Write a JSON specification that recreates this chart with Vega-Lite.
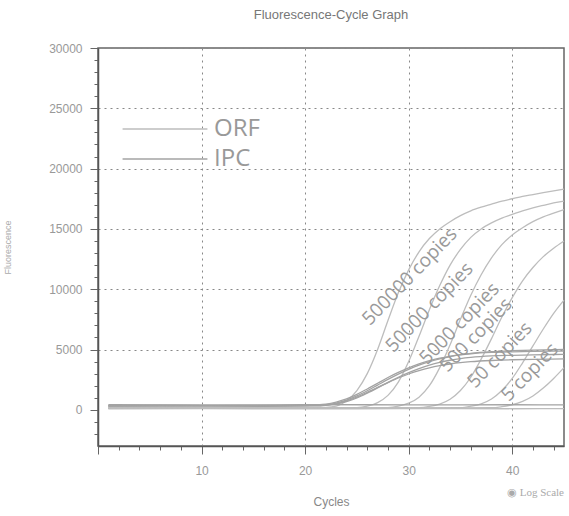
{
"$schema": "https://vega.github.io/schema/vega-lite/v6.json",
"width": 466, "height": 398,
"autosize": {"type": "none"},
"padding": {"left": 98, "top": 48, "right": 5, "bottom": 70},
"title": {"text": "Fluorescence-Cycle Graph", "fontSize": 13, "fontWeight": "normal", "color": "#777", "font": "Liberation Sans", "offset": 20},
"datasets": {
"curves": [
{"s":"ORF","c":"500000","x":1,"y":150},{"s":"ORF","c":"500000","x":6,"y":170},{"s":"ORF","c":"500000","x":12,"y":140},{"s":"ORF","c":"500000","x":18,"y":160},{"s":"ORF","c":"500000","x":22,"y":200},{"s":"ORF","c":"500000","x":23,"y":300},{"s":"ORF","c":"500000","x":24,"y":750},{"s":"ORF","c":"500000","x":25,"y":1600},{"s":"ORF","c":"500000","x":26,"y":3000},{"s":"ORF","c":"500000","x":27,"y":5000},{"s":"ORF","c":"500000","x":28,"y":7400},{"s":"ORF","c":"500000","x":29,"y":9700},{"s":"ORF","c":"500000","x":30,"y":11600},{"s":"ORF","c":"500000","x":31,"y":13100},{"s":"ORF","c":"500000","x":32,"y":14200},{"s":"ORF","c":"500000","x":33,"y":15000},{"s":"ORF","c":"500000","x":34,"y":15600},{"s":"ORF","c":"500000","x":35,"y":16100},{"s":"ORF","c":"500000","x":36,"y":16500},{"s":"ORF","c":"500000","x":37,"y":16800},{"s":"ORF","c":"500000","x":38,"y":17050},{"s":"ORF","c":"500000","x":39,"y":17300},{"s":"ORF","c":"500000","x":40,"y":17500},{"s":"ORF","c":"500000","x":41,"y":17700},{"s":"ORF","c":"500000","x":42,"y":17850},{"s":"ORF","c":"500000","x":43,"y":18000},{"s":"ORF","c":"500000","x":44,"y":18150},{"s":"ORF","c":"500000","x":45,"y":18300},
{"s":"ORF","c":"50000","x":1,"y":120},{"s":"ORF","c":"50000","x":7,"y":150},{"s":"ORF","c":"50000","x":13,"y":130},{"s":"ORF","c":"50000","x":19,"y":150},{"s":"ORF","c":"50000","x":25,"y":180},{"s":"ORF","c":"50000","x":26,"y":300},{"s":"ORF","c":"50000","x":27,"y":600},{"s":"ORF","c":"50000","x":28,"y":1200},{"s":"ORF","c":"50000","x":29,"y":2300},{"s":"ORF","c":"50000","x":30,"y":4000},{"s":"ORF","c":"50000","x":31,"y":6100},{"s":"ORF","c":"50000","x":32,"y":8300},{"s":"ORF","c":"50000","x":33,"y":10300},{"s":"ORF","c":"50000","x":34,"y":12000},{"s":"ORF","c":"50000","x":35,"y":13300},{"s":"ORF","c":"50000","x":36,"y":14300},{"s":"ORF","c":"50000","x":37,"y":15000},{"s":"ORF","c":"50000","x":38,"y":15500},{"s":"ORF","c":"50000","x":39,"y":15900},{"s":"ORF","c":"50000","x":40,"y":16200},{"s":"ORF","c":"50000","x":41,"y":16500},{"s":"ORF","c":"50000","x":42,"y":16750},{"s":"ORF","c":"50000","x":43,"y":16950},{"s":"ORF","c":"50000","x":44,"y":17150},{"s":"ORF","c":"50000","x":45,"y":17300},
{"s":"ORF","c":"5000","x":1,"y":160},{"s":"ORF","c":"5000","x":8,"y":140},{"s":"ORF","c":"5000","x":15,"y":170},{"s":"ORF","c":"5000","x":22,"y":150},{"s":"ORF","c":"5000","x":28,"y":190},{"s":"ORF","c":"5000","x":29,"y":300},{"s":"ORF","c":"5000","x":30,"y":550},{"s":"ORF","c":"5000","x":31,"y":1050},{"s":"ORF","c":"5000","x":32,"y":2000},{"s":"ORF","c":"5000","x":33,"y":3500},{"s":"ORF","c":"5000","x":34,"y":5400},{"s":"ORF","c":"5000","x":35,"y":7500},{"s":"ORF","c":"5000","x":36,"y":9500},{"s":"ORF","c":"5000","x":37,"y":11200},{"s":"ORF","c":"5000","x":38,"y":12600},{"s":"ORF","c":"5000","x":39,"y":13700},{"s":"ORF","c":"5000","x":40,"y":14500},{"s":"ORF","c":"5000","x":41,"y":15100},{"s":"ORF","c":"5000","x":42,"y":15600},{"s":"ORF","c":"5000","x":43,"y":16000},{"s":"ORF","c":"5000","x":44,"y":16300},{"s":"ORF","c":"5000","x":45,"y":16600},
{"s":"ORF","c":"500","x":1,"y":140},{"s":"ORF","c":"500","x":9,"y":160},{"s":"ORF","c":"500","x":17,"y":130},{"s":"ORF","c":"500","x":25,"y":150},{"s":"ORF","c":"500","x":31,"y":180},{"s":"ORF","c":"500","x":32,"y":280},{"s":"ORF","c":"500","x":33,"y":480},{"s":"ORF","c":"500","x":34,"y":880},{"s":"ORF","c":"500","x":35,"y":1600},{"s":"ORF","c":"500","x":36,"y":2700},{"s":"ORF","c":"500","x":37,"y":4200},{"s":"ORF","c":"500","x":38,"y":5900},{"s":"ORF","c":"500","x":39,"y":7700},{"s":"ORF","c":"500","x":40,"y":9300},{"s":"ORF","c":"500","x":41,"y":10700},{"s":"ORF","c":"500","x":42,"y":11800},{"s":"ORF","c":"500","x":43,"y":12700},{"s":"ORF","c":"500","x":44,"y":13400},{"s":"ORF","c":"500","x":45,"y":14000},
{"s":"ORF","c":"50","x":1,"y":130},{"s":"ORF","c":"50","x":10,"y":150},{"s":"ORF","c":"50","x":20,"y":140},{"s":"ORF","c":"50","x":30,"y":160},{"s":"ORF","c":"50","x":35,"y":190},{"s":"ORF","c":"50","x":36,"y":300},{"s":"ORF","c":"50","x":37,"y":500},{"s":"ORF","c":"50","x":38,"y":900},{"s":"ORF","c":"50","x":39,"y":1600},{"s":"ORF","c":"50","x":40,"y":2600},{"s":"ORF","c":"50","x":41,"y":3900},{"s":"ORF","c":"50","x":42,"y":5300},{"s":"ORF","c":"50","x":43,"y":6700},{"s":"ORF","c":"50","x":44,"y":8000},{"s":"ORF","c":"50","x":45,"y":9100},
{"s":"ORF","c":"5","x":1,"y":150},{"s":"ORF","c":"5","x":10,"y":130},{"s":"ORF","c":"5","x":20,"y":160},{"s":"ORF","c":"5","x":30,"y":140},{"s":"ORF","c":"5","x":38,"y":170},{"s":"ORF","c":"5","x":39,"y":260},{"s":"ORF","c":"5","x":40,"y":420},{"s":"ORF","c":"5","x":41,"y":700},{"s":"ORF","c":"5","x":42,"y":1150},{"s":"ORF","c":"5","x":43,"y":1800},{"s":"ORF","c":"5","x":44,"y":2600},{"s":"ORF","c":"5","x":45,"y":3500},
{"s":"ORF","c":"ntc","x":1,"y":80},{"s":"ORF","c":"ntc","x":10,"y":100},{"s":"ORF","c":"ntc","x":20,"y":70},{"s":"ORF","c":"ntc","x":30,"y":110},{"s":"ORF","c":"ntc","x":40,"y":90},{"s":"ORF","c":"ntc","x":45,"y":100},
{"s":"IPC","c":"i1","x":1,"y":330},{"s":"IPC","c":"i1","x":8,"y":360},{"s":"IPC","c":"i1","x":15,"y":340},{"s":"IPC","c":"i1","x":20,"y":370},{"s":"IPC","c":"i1","x":22,"y":420},{"s":"IPC","c":"i1","x":23,"y":560},{"s":"IPC","c":"i1","x":24,"y":800},{"s":"IPC","c":"i1","x":25,"y":1150},{"s":"IPC","c":"i1","x":26,"y":1580},{"s":"IPC","c":"i1","x":27,"y":2050},{"s":"IPC","c":"i1","x":28,"y":2520},{"s":"IPC","c":"i1","x":29,"y":2960},{"s":"IPC","c":"i1","x":30,"y":3350},{"s":"IPC","c":"i1","x":31,"y":3700},{"s":"IPC","c":"i1","x":32,"y":3990},{"s":"IPC","c":"i1","x":33,"y":4230},{"s":"IPC","c":"i1","x":34,"y":4420},{"s":"IPC","c":"i1","x":35,"y":4570},{"s":"IPC","c":"i1","x":36,"y":4680},{"s":"IPC","c":"i1","x":38,"y":4820},{"s":"IPC","c":"i1","x":40,"y":4900},{"s":"IPC","c":"i1","x":42,"y":4950},{"s":"IPC","c":"i1","x":45,"y":5000},
{"s":"IPC","c":"i2","x":1,"y":300},{"s":"IPC","c":"i2","x":9,"y":320},{"s":"IPC","c":"i2","x":16,"y":290},{"s":"IPC","c":"i2","x":21,"y":330},{"s":"IPC","c":"i2","x":22,"y":380},{"s":"IPC","c":"i2","x":23,"y":480},{"s":"IPC","c":"i2","x":24,"y":680},{"s":"IPC","c":"i2","x":25,"y":980},{"s":"IPC","c":"i2","x":26,"y":1380},{"s":"IPC","c":"i2","x":27,"y":1820},{"s":"IPC","c":"i2","x":28,"y":2280},{"s":"IPC","c":"i2","x":29,"y":2700},{"s":"IPC","c":"i2","x":30,"y":3080},{"s":"IPC","c":"i2","x":31,"y":3420},{"s":"IPC","c":"i2","x":32,"y":3700},{"s":"IPC","c":"i2","x":33,"y":3930},{"s":"IPC","c":"i2","x":34,"y":4110},{"s":"IPC","c":"i2","x":35,"y":4250},{"s":"IPC","c":"i2","x":36,"y":4350},{"s":"IPC","c":"i2","x":38,"y":4470},{"s":"IPC","c":"i2","x":40,"y":4520},{"s":"IPC","c":"i2","x":42,"y":4560},{"s":"IPC","c":"i2","x":45,"y":4600},
{"s":"IPC","c":"i3","x":1,"y":350},{"s":"IPC","c":"i3","x":7,"y":330},{"s":"IPC","c":"i3","x":14,"y":360},{"s":"IPC","c":"i3","x":21,"y":350},{"s":"IPC","c":"i3","x":22,"y":400},{"s":"IPC","c":"i3","x":23,"y":520},{"s":"IPC","c":"i3","x":24,"y":740},{"s":"IPC","c":"i3","x":25,"y":1060},{"s":"IPC","c":"i3","x":26,"y":1450},{"s":"IPC","c":"i3","x":27,"y":1860},{"s":"IPC","c":"i3","x":28,"y":2260},{"s":"IPC","c":"i3","x":29,"y":2640},{"s":"IPC","c":"i3","x":30,"y":2970},{"s":"IPC","c":"i3","x":31,"y":3250},{"s":"IPC","c":"i3","x":32,"y":3480},{"s":"IPC","c":"i3","x":33,"y":3660},{"s":"IPC","c":"i3","x":34,"y":3800},{"s":"IPC","c":"i3","x":35,"y":3910},{"s":"IPC","c":"i3","x":36,"y":3990},{"s":"IPC","c":"i3","x":38,"y":4090},{"s":"IPC","c":"i3","x":40,"y":4150},{"s":"IPC","c":"i3","x":42,"y":4180},{"s":"IPC","c":"i3","x":45,"y":4220},
{"s":"IPC","c":"i4","x":1,"y":310},{"s":"IPC","c":"i4","x":6,"y":340},{"s":"IPC","c":"i4","x":13,"y":320},{"s":"IPC","c":"i4","x":20,"y":360},{"s":"IPC","c":"i4","x":21,"y":400},{"s":"IPC","c":"i4","x":22,"y":470},{"s":"IPC","c":"i4","x":23,"y":640},{"s":"IPC","c":"i4","x":24,"y":900},{"s":"IPC","c":"i4","x":25,"y":1280},{"s":"IPC","c":"i4","x":26,"y":1730},{"s":"IPC","c":"i4","x":27,"y":2200},{"s":"IPC","c":"i4","x":28,"y":2680},{"s":"IPC","c":"i4","x":29,"y":3100},{"s":"IPC","c":"i4","x":30,"y":3480},{"s":"IPC","c":"i4","x":31,"y":3800},{"s":"IPC","c":"i4","x":32,"y":4070},{"s":"IPC","c":"i4","x":33,"y":4280},{"s":"IPC","c":"i4","x":34,"y":4440},{"s":"IPC","c":"i4","x":35,"y":4560},{"s":"IPC","c":"i4","x":36,"y":4650},{"s":"IPC","c":"i4","x":38,"y":4760},{"s":"IPC","c":"i4","x":40,"y":4810},{"s":"IPC","c":"i4","x":42,"y":4840},{"s":"IPC","c":"i4","x":45,"y":4870},
{"s":"IPC","c":"iflat","x":1,"y":420},{"s":"IPC","c":"iflat","x":10,"y":400},{"s":"IPC","c":"iflat","x":20,"y":430},{"s":"IPC","c":"iflat","x":30,"y":410},{"s":"IPC","c":"iflat","x":40,"y":420},{"s":"IPC","c":"iflat","x":45,"y":410}
],
"labels": [
{"label":"500000 copies","x":30.1,"y":11050},
{"label":"50000 copies","x":32.0,"y":8500},
{"label":"5000 copies","x":34.9,"y":7150},
{"label":"500 copies","x":36.5,"y":6200},
{"label":"50 copies","x":38.8,"y":4550},
{"label":"5 copies","x":41.7,"y":3130}
],
"notes": [{"text":"◉ Log Scale","x":45,"y":-3000}]
},
"layer": [
{
"data": {"name": "curves"},
"mark": {"type": "line", "interpolate": "monotone", "strokeWidth": 1.3},
"encoding": {
"x": {"field": "x", "type": "quantitative", "scale": {"domain": [0, 45], "nice": false, "zero": false},
"axis": {"values": [0,2,4,6,8,10,12,14,16,18,20,22,24,26,28,30,32,34,36,38,40,42,44],
"tickCount": 500,
"labelExpr": "datum.value % 10 === 0 && datum.value > 0 ? format(datum.value, 'd') : ''",
"labelOverlap": false, "labelFlush": false,
"tickSize": {"condition": {"test": "datum.value % 10 === 0", "value": 8}, "value": 4},
"gridOpacity": {"condition": {"test": "datum.value % 10 === 0 && datum.value > 0", "value": 1}, "value": 0},
"gridDash": [2, 4], "gridColor": "#888", "gridWidth": 1,
"labelPadding": 11, "labelFontSize": 12, "labelColor": "#999", "labelFont": "Liberation Sans",
"domainColor": "#555", "domainWidth": 1.5, "tickColor": "#666",
"title": "Cycles", "titleFontSize": 12, "titleFontWeight": "normal", "titleColor": "#888", "titleFont": "Liberation Sans", "titlePadding": 20}},
"y": {"field": "y", "type": "quantitative", "scale": {"domain": [-3000, 30000], "nice": false, "zero": false},
"axis": {"values": [-2000,-1000,0,1000,2000,3000,4000,5000,6000,7000,8000,9000,10000,11000,12000,13000,14000,15000,16000,17000,18000,19000,20000,21000,22000,23000,24000,25000,26000,27000,28000,29000,30000],
"tickCount": 500,
"labelExpr": "datum.value % 5000 === 0 && datum.value >= 0 ? format(datum.value, 'd') : ''",
"labelOverlap": false, "labelFlush": false,
"tickSize": {"condition": {"test": "datum.value % 5000 === 0", "value": 8}, "value": 4},
"gridOpacity": {"condition": {"test": "datum.value % 5000 === 0 && datum.value > 0", "value": 1}, "value": 0},
"gridDash": [2, 4], "gridColor": "#888", "gridWidth": 1,
"labelPadding": 8, "labelFontSize": 12, "labelColor": "#999", "labelFont": "Liberation Sans",
"domainColor": "#555", "domainWidth": 1.5, "tickColor": "#666",
"title": "Fluorescence", "titleFontSize": 9, "titleFontWeight": "normal", "titleColor": "#aaa", "titleFont": "Liberation Sans", "titlePadding": 36}},
"color": {"field": "s", "type": "nominal", "scale": {"domain": ["ORF", "IPC"], "range": ["#bdbdbd", "#a3a3a3"]},
"legend": {"orient": "none", "legendX": 52, "legendY": 66, "title": null, "symbolType": "M-3,0H3", "symbolSize": 800, "symbolStrokeWidth": 1.5, "symbolFillColor": "transparent", "labelFontSize": 24, "labelColor": "#999", "labelFont": "Open Sans", "labelOffset": 34, "rowPadding": 3, "padding": 0}},
"detail": {"field": "c"}
}
},
{
"data": {"name": "labels"},
"mark": {"type": "text", "angle": 314, "fontSize": 19, "color": "#9a9a9a", "font": "Open Sans", "align": "center", "baseline": "middle"},
"encoding": {
"x": {"field": "x", "type": "quantitative"},
"y": {"field": "y", "type": "quantitative"},
"text": {"field": "label"}
}
},
{
"data": {"name": "notes"},
"mark": {"type": "text", "align": "right", "baseline": "middle", "dy": 47, "fontSize": 11, "color": "#aaa", "font": "Liberation Serif"},
"encoding": {
"x": {"field": "x", "type": "quantitative"},
"y": {"field": "y", "type": "quantitative"},
"text": {"field": "text"}
}
}
],
"config": {"view": {"stroke": "#666", "strokeWidth": 1.5}}
}
